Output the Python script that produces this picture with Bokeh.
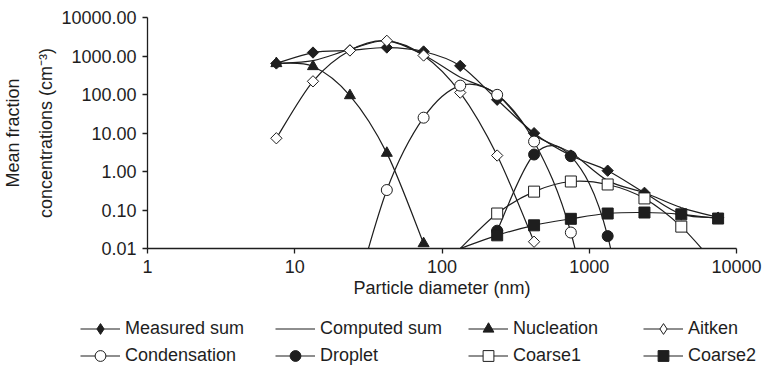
import numpy as np
from bokeh.plotting import figure
from bokeh.layouts import column
from bokeh.models import (ColumnDataSource, Range1d, FixedTicker, PrintfTickFormatter,
                          Legend, LegendItem)
from bokeh.embed import file_html
from bokeh.resources import INLINE

# ---------------- data ----------------
diameters = [7.5, 13.3, 23.7, 42.2, 75, 133, 237, 422, 750, 1334, 2371, 4217, 7499]

measured_sum = [640, 1230, 1400, 1660, 1310, 556, 73, 9.9, 2.6, 1.05, 0.28, 0.078, 0.063]
computed_sum = [645, 760, 1480, 2480, 1060, 280, 100, 9.1, 3.1, 0.58, 0.28, 0.115, 0.064]

nucleation_d = [7.5, 13.3, 23.7, 42.2, 75]
nucleation = [640, 535, 94, 3.0, 0.0135]

aitken_d = [7.5, 13.3, 23.7, 42.2, 75, 133, 237, 422]
aitken = [7.3, 220, 1390, 2480, 1030, 112, 2.6, 0.015]

condensation_d = [23.7, 42.2, 75, 133, 237, 422, 750, 1334]
condensation = [0.0002, 0.33, 25, 170, 98, 6.0, 0.026, 0.000001]

droplet_d = [237, 422, 750, 1334, 2371]
droplet = [0.029, 2.76, 2.5, 0.021, 0.0000001]

coarse1_d = [133, 237, 422, 750, 1334, 2371, 4217, 7499]
coarse1 = [0.01, 0.081, 0.30, 0.55, 0.46, 0.20, 0.037, 0.0032]

coarse2_d = [133, 237, 422, 750, 1334, 2371, 4217, 7499]
coarse2 = [0.01, 0.022, 0.040, 0.059, 0.081, 0.086, 0.077, 0.060]

x_ticks = [1, 10, 100, 1000, 10000]
y_ticks = [0.01, 0.1, 1, 10, 100, 1000, 10000]

Y_MIN, Y_MAX = 0.01, 10000
X_MIN, X_MAX = 1, 10000

FONT = "Liberation Sans"
INK = "#1e1e1e"
FS = "18px"


def smooth_segments(xs, ys):
    """Catmull-Rom style Bezier segments (Excel 'smoothed line'), computed in log space."""
    lx = np.log10(np.asarray(xs, float))
    ly = np.log10(np.asarray(ys, float))
    n = len(lx)
    d = {k: [] for k in ("x0", "y0", "x1", "y1", "cx0", "cy0", "cx1", "cy1")}
    for i in range(n - 1):
        a = i - 1 if i > 0 else i
        b = i + 2 if i + 2 < n else i + 1
        c0x = lx[i] + (lx[i + 1] - lx[a]) / 6.0
        c0y = ly[i] + (ly[i + 1] - ly[a]) / 6.0
        c1x = lx[i + 1] - (lx[b] - lx[i]) / 6.0
        c1y = ly[i + 1] - (ly[b] - ly[i]) / 6.0
        d["x0"].append(10 ** lx[i]); d["y0"].append(10 ** ly[i])
        d["x1"].append(10 ** lx[i + 1]); d["y1"].append(10 ** ly[i + 1])
        d["cx0"].append(10 ** c0x); d["cy0"].append(10 ** c0y)
        d["cx1"].append(10 ** c1x); d["cy1"].append(10 ** c1y)
    return ColumnDataSource(d)


MAIN_H = 312
p = figure(width=768, height=MAIN_H, x_axis_type="log", y_axis_type="log",
           x_range=Range1d(X_MIN, X_MAX), y_range=Range1d(Y_MIN, Y_MAX),
           output_backend="svg", toolbar_location=None,
           min_border_left=147, min_border_right=32, min_border_top=17,
           min_border_bottom=MAIN_H - 248)
p.frame_align = False
p.outline_line_color = None
p.xgrid.visible = False
p.ygrid.visible = False
p.background_fill_color = "white"
p.border_fill_color = "white"

# legend-only figure under the chart
LEG_H = 365 - MAIN_H
q = figure(width=768, height=LEG_H, x_axis_type="log", y_axis_type="log",
           x_range=Range1d(X_MIN, X_MAX), y_range=Range1d(Y_MIN, Y_MAX),
           x_axis_location=None, y_axis_location=None,
           output_backend="svg", toolbar_location=None,
           min_border=0, min_border_left=0, min_border_right=0,
           min_border_top=0, min_border_bottom=0)
q.frame_align = False
q.outline_line_color = None
q.grid.visible = False
q.background_fill_color = "white"
q.border_fill_color = "white"

# name, x, y, plot marker, angle, size, fill, legend marker
series = [
    ("Measured sum", diameters, measured_sum, "square", np.pi / 4, 8.0, INK, "diamond"),
    ("Computed sum", diameters, computed_sum, None, 0, 0, None, None),
    ("Nucleation", nucleation_d, nucleation, "triangle", 0, 11, INK, "triangle"),
    ("Aitken", aitken_d, aitken, "square", np.pi / 4, 8.0, "white", "diamond"),
    ("Condensation", condensation_d, condensation, "circle", 0, 11, "white", "circle"),
    ("Droplet", droplet_d, droplet, "circle", 0, 11, INK, "circle"),
    ("Coarse1", coarse1_d, coarse1, "square", 0, 11, "white", "square"),
    ("Coarse2", coarse2_d, coarse2, "square", 0, 11, INK, "square"),
]

legend_renderers = {}
for name, xs, ys, marker, ang, size, fill, lmarker in series:
    src = smooth_segments(xs, ys)
    mx = [x for x, y in zip(xs, ys) if y > Y_MIN * 1.05]
    my = [y for x, y in zip(xs, ys) if y > Y_MIN * 1.05]
    msrc = ColumnDataSource(dict(x=mx, y=my))
    # visible chart
    p.bezier(x0="x0", y0="y0", x1="x1", y1="y1", cx0="cx0", cy0="cy0",
             cx1="cx1", cy1="cy1", source=src, line_color=INK, line_width=1.2)
    if marker:
        p.scatter("x", "y", source=msrc, marker=marker, size=size, angle=ang,
                  fill_color=fill, line_color=INK, line_width=1.0)
    # hidden twins that only feed the legend
    rs = [q.bezier(x0="x0", y0="y0", x1="x1", y1="y1", cx0="cx0", cy0="cy0",
                   cx1="cx1", cy1="cy1", source=src, line_color=INK,
                   line_width=1.2, visible=False)]
    if marker:
        rs.append(q.scatter("x", "y", source=msrc, marker=lmarker, size=size,
                            fill_color=fill, line_color=INK, line_width=1.0, visible=False))
    legend_renderers[name] = rs

# ---------------- axes ----------------
for ax in (p.xaxis[0], p.yaxis[0]):
    ax.axis_line_color = INK
    ax.axis_line_width = 1.3
    ax.major_tick_line_color = INK
    ax.major_tick_line_width = 1.3
    ax.major_tick_out = 5
    ax.major_tick_in = 0
    ax.minor_tick_line_color = None
    ax.major_label_text_font = FONT
    ax.major_label_text_font_size = FS
    ax.major_label_text_color = INK
    ax.major_label_standoff = 6
    ax.axis_label_text_font = FONT
    ax.axis_label_text_font_size = FS
    ax.axis_label_text_font_style = "normal"
    ax.axis_label_text_color = INK

p.xaxis.ticker = FixedTicker(ticks=x_ticks, minor_ticks=[])
p.yaxis.ticker = FixedTicker(ticks=y_ticks, minor_ticks=[])
p.xaxis.formatter = PrintfTickFormatter(format="%d")
p.yaxis.formatter = PrintfTickFormatter(format="%.2f")
p.xaxis.axis_label = "Particle diameter (nm)"
p.xaxis.axis_label_standoff = 2
p.yaxis.axis_label = "Mean fraction\nconcentrations (cm\u207b\u00b3)"
p.yaxis.axis_label_standoff = 2
p.yaxis.axis_label_text_line_height = 1.65

# ---------------- legend (4 columns x 2 rows) ----------------
ITEM_H = 27
columns = [
    (80, ["Measured sum", "Condensation"]),
    (275, ["Computed sum", "Droplet"]),
    (468, ["Nucleation", "Coarse1"]),
    (643, ["Aitken", "Coarse2"]),
]
row1_center = 328 - MAIN_H
leg_top = row1_center - ITEM_H / 2
leg_bottom_from_bottom = LEG_H - (leg_top + 2 * ITEM_H)
for cx, names in columns:
    lg = Legend(items=[LegendItem(label=n, renderers=legend_renderers[n]) for n in names],
                location=(cx, leg_bottom_from_bottom), orientation="vertical",
                glyph_width=40, glyph_height=ITEM_H, label_height=ITEM_H, label_standoff=5,
                spacing=0, padding=0, margin=0,
                border_line_color=None, background_fill_alpha=0,
                label_text_font=FONT, label_text_font_size=FS, label_text_color=INK)
    q.add_layout(lg)

layout = column(p, q, spacing=0)
open("out.html", "w").write(file_html(layout, INLINE))
